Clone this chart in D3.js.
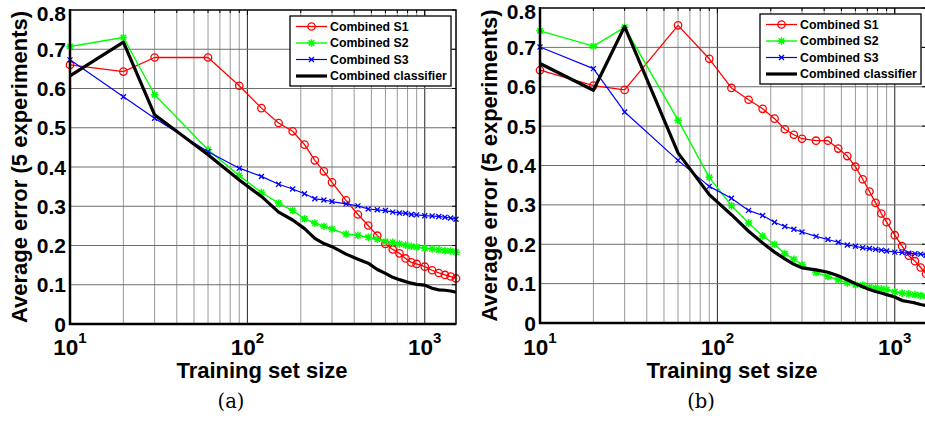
<!DOCTYPE html>
<html>
<head>
<meta charset="utf-8">
<script src="https://cdn.jsdelivr.net/npm/d3@7"></script>
<style>
  body { margin: 0; background: #fff; }
  svg { display: block; font-family: "Liberation Sans", Arial, sans-serif; }
</style>
</head>
<body>
<svg width="925" height="423"></svg>
<script>
// training set sizes (x values, shared by every curve)
var sizes = [10, 20, 30, 60, 90, 120, 150, 180, 210, 240, 270, 300, 360, 420, 480, 540, 600, 660, 720, 780, 840, 900, 1000, 1100, 1200, 1300, 1400, 1500];

// panel (a)
var a_s1 = [0.660, 0.643, 0.679, 0.679, 0.607, 0.550, 0.512, 0.491, 0.457, 0.417, 0.389, 0.361, 0.315, 0.279, 0.251, 0.225, 0.204, 0.190, 0.180, 0.167, 0.157, 0.153, 0.146, 0.137, 0.130, 0.125, 0.121, 0.116];
var a_s2 = [0.707, 0.730, 0.584, 0.444, 0.378, 0.335, 0.308, 0.289, 0.268, 0.257, 0.249, 0.242, 0.229, 0.226, 0.221, 0.216, 0.210, 0.208, 0.204, 0.201, 0.198, 0.196, 0.193, 0.191, 0.189, 0.187, 0.186, 0.183];
var a_s3 = [0.673, 0.579, 0.524, 0.439, 0.397, 0.376, 0.356, 0.344, 0.332, 0.319, 0.316, 0.312, 0.306, 0.301, 0.293, 0.291, 0.289, 0.285, 0.283, 0.282, 0.279, 0.278, 0.276, 0.275, 0.274, 0.272, 0.270, 0.267];
var a_comb = [0.632, 0.718, 0.533, 0.431, 0.367, 0.325, 0.285, 0.265, 0.243, 0.218, 0.205, 0.197, 0.178, 0.165, 0.155, 0.139, 0.129, 0.119, 0.113, 0.108, 0.104, 0.101, 0.099, 0.091, 0.087, 0.086, 0.084, 0.081];

// panel (b)
var b_s1 = [0.642, 0.603, 0.592, 0.756, 0.671, 0.597, 0.567, 0.544, 0.519, 0.492, 0.478, 0.468, 0.463, 0.463, 0.443, 0.424, 0.397, 0.365, 0.334, 0.305, 0.278, 0.256, 0.223, 0.195, 0.171, 0.157, 0.141, 0.125];
var b_s2 = [0.742, 0.703, 0.751, 0.515, 0.370, 0.298, 0.254, 0.221, 0.200, 0.176, 0.162, 0.148, 0.128, 0.118, 0.110, 0.102, 0.097, 0.096, 0.091, 0.089, 0.087, 0.085, 0.079, 0.076, 0.074, 0.072, 0.070, 0.068];
var b_s3 = [0.701, 0.646, 0.536, 0.413, 0.347, 0.317, 0.286, 0.273, 0.256, 0.245, 0.238, 0.231, 0.220, 0.212, 0.205, 0.198, 0.195, 0.191, 0.189, 0.187, 0.185, 0.183, 0.180, 0.179, 0.177, 0.176, 0.175, 0.172];
var b_comb = [0.659, 0.591, 0.753, 0.432, 0.326, 0.275, 0.233, 0.203, 0.180, 0.163, 0.149, 0.140, 0.135, 0.129, 0.120, 0.110, 0.100, 0.092, 0.085, 0.080, 0.076, 0.072, 0.066, 0.057, 0.054, 0.051, 0.047, 0.044];

var seriesNames = ["Combined S1", "Combined S2", "Combined S3", "Combined classifier"];
var yTicks = [0, 0.1, 0.2, 0.3, 0.4, 0.5, 0.6, 0.7, 0.8];
var xMajor = [10, 100, 1000];
var captions = ["(a)", "(b)"];

var styles = [
  { color: "#ff0000", width: 1.3, marker: "circle" },
  { color: "#00ff00", width: 1.4, marker: "star" },
  { color: "#0000ff", width: 1.2, marker: "x" },
  { color: "#000000", width: 3.2, marker: null }
];

var panels = [
  { left: 70, right: 456, top: 10, bottom: 324, caption: captions[0], data: [a_s1, a_s2, a_s3, a_comb] },
  { left: 540, right: 926, top: 8, bottom: 323, caption: captions[1], data: [b_s1, b_s2, b_s3, b_comb] }
];

var svg = d3.select("svg");

function drawMarker(g, type, color, x, y) {
  if (type == "circle") {
    g.append("circle").attr("cx", x).attr("cy", y).attr("r", 3.7)
      .attr("fill", "none").attr("stroke", color).attr("stroke-width", 1.3);
  } else if (type == "star") {
    var s = 3.8, d = 2.8;
    g.append("path")
      .attr("d", "M" + (x - s) + "," + y + "H" + (x + s) + "M" + x + "," + (y - s) + "V" + (y + s) +
        "M" + (x - d) + "," + (y - d) + "L" + (x + d) + "," + (y + d) +
        "M" + (x - d) + "," + (y + d) + "L" + (x + d) + "," + (y - d))
      .attr("stroke", color).attr("stroke-width", 1.5).attr("fill", "none");
  } else if (type == "x") {
    var t = 2.5;
    g.append("path")
      .attr("d", "M" + (x - t) + "," + (y - t) + "L" + (x + t) + "," + (y + t) +
        "M" + (x - t) + "," + (y + t) + "L" + (x + t) + "," + (y - t))
      .attr("stroke", color).attr("stroke-width", 1.3).attr("fill", "none");
  }
}

panels.forEach(function(p) {
  var x = d3.scaleLog().domain([10, 1500]).range([p.left, p.right]);
  var y = d3.scaleLinear().domain([0, 0.8]).range([p.bottom, p.top]);
  var g = svg.append("g");

  // grid: every log tick vertically, every 0.1 horizontally
  var minor = [];
  for (var dec = 10; dec <= 1000; dec *= 10) {
    for (var k = 1; k <= 9; k++) {
      var v = dec * k;
      if (v >= 10 && v <= 1500) minor.push(v);
    }
  }
  g.selectAll(".vgrid").data(minor).enter().append("line")
    .attr("x1", d => x(d)).attr("x2", d => x(d))
    .attr("y1", p.top).attr("y2", p.bottom)
    .attr("stroke", d => xMajor.indexOf(d) >= 0 ? "#222" : "#9a9a9a")
    .attr("stroke-width", 1);

  g.selectAll(".hgrid").data(yTicks.slice(1, -1)).enter().append("line")
    .attr("x1", p.left).attr("x2", p.right)
    .attr("y1", d => y(d)).attr("y2", d => y(d))
    .attr("stroke", "#6e6e6e").attr("stroke-width", 1);

  // inward ticks on the right and top sides
  g.selectAll(".rtick").data(yTicks).enter().append("line")
    .attr("x1", p.right - 4).attr("x2", p.right)
    .attr("y1", d => y(d)).attr("y2", d => y(d))
    .attr("stroke", "#000");
  g.selectAll(".ttick").data(minor).enter().append("line")
    .attr("x1", d => x(d)).attr("x2", d => x(d))
    .attr("y1", p.top).attr("y2", d => p.top + (xMajor.indexOf(d) >= 0 ? 5 : 3))
    .attr("stroke", "#000");

  // curves
  p.data.forEach(function(vals, i) {
    var st = styles[i];
    var line = d3.line().x((d, j) => x(sizes[j])).y(d => y(d));
    g.append("path").datum(vals)
      .attr("d", line)
      .attr("fill", "none")
      .attr("stroke", st.color)
      .attr("stroke-width", st.width)
      .attr("stroke-linejoin", "round");
    if (st.marker) {
      vals.forEach(function(v, j) { drawMarker(g, st.marker, st.color, x(sizes[j]), y(v)); });
    }
  });

  // axes box
  g.append("rect")
    .attr("x", p.left).attr("y", p.top)
    .attr("width", p.right - p.left).attr("height", p.bottom - p.top)
    .attr("fill", "none").attr("stroke", "#000").attr("stroke-width", 1.5);
  g.append("line").attr("x1", p.left).attr("x2", p.left).attr("y1", p.top - 1).attr("y2", p.bottom + 1)
    .attr("stroke", "#000").attr("stroke-width", 2.5);
  g.append("line").attr("x1", p.left - 1).attr("x2", p.right).attr("y1", p.bottom).attr("y2", p.bottom)
    .attr("stroke", "#000").attr("stroke-width", 2.5);

  // y tick labels
  g.selectAll(".ylab").data(yTicks).enter().append("text")
    .attr("x", p.left - 4).attr("y", d => y(d)).attr("dy", d => d == 0.8 ? "0.52em" : "0.36em")
    .attr("text-anchor", "end")
    .attr("font-size", 21).attr("font-weight", "bold")
    .text(d => d3.format(".1f")(d).replace(/^0\.0$/, "0"));

  // x tick labels 10^n
  xMajor.forEach(function(v) {
    var t = g.append("text")
      .attr("x", x(v)).attr("y", 355)
      .attr("text-anchor", "middle")
      .attr("font-size", 22.5).attr("font-weight", "bold");
    t.append("tspan").text("10");
    t.append("tspan").attr("dy", -12).attr("font-size", 15).text(Math.round(Math.log10(v)));
  });

  // axis titles
  g.append("text")
    .attr("x", (p.left + p.right) / 2 - 1).attr("y", 378)
    .attr("text-anchor", "middle")
    .attr("font-size", 22).attr("font-weight", "bold")
    .text("Training set size");
  g.append("text")
    .attr("transform", "translate(" + (p.left - 43) + "," + ((p.top + p.bottom) / 2) + ") rotate(-90)")
    .attr("text-anchor", "middle")
    .attr("font-size", 22).attr("font-weight", "bold")
    .text("Average error (5 experiments)");

  // caption
  g.append("text")
    .attr("x", (p.left + p.right) / 2 - 32).attr("y", 408)
    .attr("text-anchor", "middle")
    .attr("font-family", "'DejaVu Serif', 'Liberation Serif', serif")
    .attr("font-size", 19.5)
    .text(p.caption);

  // legend
  var lx = p.right - 166, ly = p.top + 6;
  var leg = g.append("g").attr("transform", "translate(" + lx + "," + ly + ")");
  leg.append("rect").attr("x", 0).attr("y", 0).attr("width", 161).attr("height", 70)
    .attr("fill", "#fff").attr("stroke", "#000").attr("stroke-width", 1.3);
  seriesNames.forEach(function(name, i) {
    var st = styles[i];
    var ry = 10.5 + i * 16.5;
    leg.append("line").attr("x1", 6).attr("x2", 37).attr("y1", ry).attr("y2", ry)
      .attr("stroke", st.color).attr("stroke-width", st.width);
    if (st.marker) drawMarker(leg, st.marker, st.color, 21.5, ry);
    leg.append("text").attr("x", 40).attr("y", ry).attr("dy", "0.36em")
      .attr("font-size", 12.3).attr("font-weight", "bold")
      .text(name);
  });
});
</script>
</body>
</html>
